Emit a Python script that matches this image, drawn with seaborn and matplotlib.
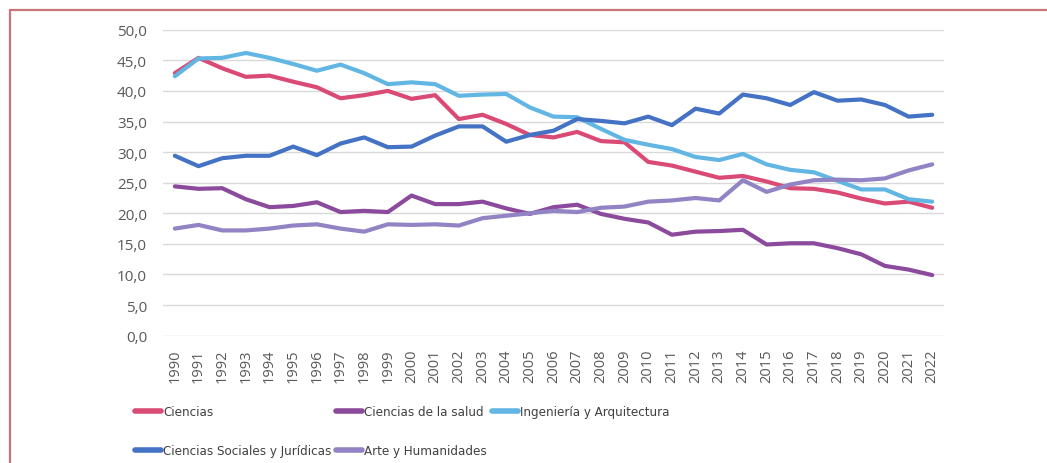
import matplotlib
matplotlib.use("Agg")
from matplotlib import pyplot as plt
from matplotlib import font_manager
from matplotlib.lines import Line2D
from matplotlib.ticker import FuncFormatter
import seaborn as sns
import pandas as pd

# Datos (porcentaje por rama de conocimiento)
anios = list(range(1990, 2023))

ciencias = [42.9, 45.4, 43.7, 42.3, 42.5, 41.5, 40.6, 38.8, 39.3, 40.0, 38.7,
            39.3, 35.4, 36.1, 34.6, 32.8, 32.4, 33.3, 31.8, 31.6, 28.4, 27.8,
            26.8, 25.8, 26.1, 25.2, 24.1, 24.0, 23.4, 22.4, 21.6, 21.9, 20.9]
salud = [24.4, 24.0, 24.1, 22.3, 21.0, 21.2, 21.8, 20.2, 20.4, 20.2, 22.9,
         21.5, 21.5, 21.9, 20.8, 19.9, 21.0, 21.4, 19.9, 19.1, 18.5, 16.5,
         17.0, 17.1, 17.3, 14.9, 15.1, 15.1, 14.3, 13.3, 11.4, 10.8, 9.9]
ingenieria = [42.4, 45.3, 45.4, 46.2, 45.4, 44.4, 43.3, 44.3, 42.9, 41.1, 41.4,
              41.1, 39.2, 39.4, 39.5, 37.3, 35.8, 35.7, 33.8, 32.0, 31.2, 30.5,
              29.2, 28.7, 29.7, 28.0, 27.1, 26.7, 25.3, 23.9, 23.9, 22.3, 21.9]
sociales = [29.4, 27.7, 29.0, 29.4, 29.4, 30.9, 29.5, 31.4, 32.4, 30.8, 30.9,
            32.7, 34.2, 34.2, 31.7, 32.8, 33.5, 35.4, 35.1, 34.7, 35.8, 34.4,
            37.1, 36.3, 39.4, 38.8, 37.7, 39.8, 38.4, 38.6, 37.7, 35.8, 36.1]
arte = [17.5, 18.1, 17.2, 17.2, 17.5, 18.0, 18.2, 17.5, 17.0, 18.2, 18.1,
        18.2, 18.0, 19.2, 19.6, 20.0, 20.4, 20.2, 20.9, 21.1, 21.9, 22.1,
        22.5, 22.1, 25.4, 23.5, 24.7, 25.4, 25.5, 25.4, 25.7, 27.0, 28.0]

ramas = ["Ciencias", "Ciencias de la salud", "Ingeniería y Arquitectura",
         "Ciencias Sociales y Jurídicas", "Arte y Humanidades"]
colores = ["#D94A75", "#8B4A9C", "#62B6E4", "#4472C4", "#9183C4"]

df = pd.DataFrame({
    "anio": anios * 5,
    "valor": ciencias + salud + ingenieria + sociales + arte,
    "rama": [r for r in ramas for _ in anios],
})

sns.set_style("white")
plt.rcParams["font.family"] = ["Open Sans", "DejaVu Sans"]

# Buscar una fuente estrecha para la leyenda (si hay)
estrecha = None
for f in font_manager.fontManager.ttflist:
    nombre = f.name + " " + str(f.stretch)
    if ("Narrow" in nombre or "ondensed" in nombre) and f.style == "normal" and f.weight in (400, "normal", "regular"):
        estrecha = f.fname
        break

fig = plt.figure(figsize=(10.47, 4.64), dpi=100)
ax = fig.add_axes([0.1557, 0.2744, 0.746, 0.6594])

sns.lineplot(data=df, x="anio", y="valor", hue="rama", hue_order=ramas,
             palette=colores, linewidth=3, legend=False, ax=ax)

ax.set_xlim(1989.5, 2022.5)
ax.set_ylim(0, 50)
ax.set_yticks([i * 5 for i in range(11)])
ax.yaxis.set_major_formatter(FuncFormatter(lambda v, p: f"{v:.1f}".replace(".", ",")))
ax.set_xticks(anios)
ax.set_xticklabels([str(a) for a in anios], rotation=90)
ax.tick_params(axis="y", length=0, labelsize=11, colors="#595959", pad=11.5)
ax.tick_params(axis="x", length=0, labelsize=10.5, colors="#595959", pad=9)
ax.set_xlabel("")
ax.set_ylabel("")
ax.grid(axis="y", color="#D9D9D9", linewidth=1)
ax.set_axisbelow(True)
for s in ax.spines.values():
    s.set_visible(False)

# Leyenda en columnas como en Excel
handles = [Line2D([], [], color=c, linewidth=4) for c in colores]
if estrecha:
    fuente = font_manager.FontProperties(fname=estrecha, size=9.5)
    columnas = [([0, 3], 0.129), ([1, 4], 0.321), ([2], 0.47)]
    espacio = 1.95
else:
    fuente = font_manager.FontProperties(family="Roboto", size=8.5)
    columnas = [([0, 3], 0.129), ([1, 4], 0.345), ([2], 0.52)]
    espacio = 2.1
for idx, xpos in columnas:
    leg = fig.legend([handles[i] for i in idx], [ramas[i] for i in idx],
                     loc="upper left", bbox_to_anchor=(xpos, 0.124),
                     frameon=False, handlelength=2.0,
                     handletextpad=0.15, labelspacing=espacio, borderpad=0,
                     borderaxespad=0, prop=fuente)
    for t in leg.get_texts():
        t.set_color("#404040")

# Borde de la figura
fig.add_artist(Line2D([0.0096, 1.0], [0.976, 0.976], color="#C9737B", linewidth=1.6, transform=fig.transFigure))
fig.add_artist(Line2D([0.0096, 0.0096], [0.0, 0.976], color="#C9737B", linewidth=1.6, transform=fig.transFigure))

plt.savefig("out.png", dpi=100)
